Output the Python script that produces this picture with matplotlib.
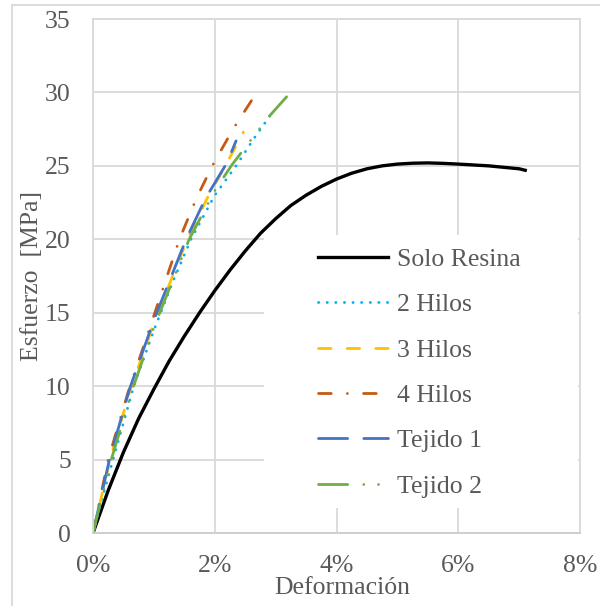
import matplotlib
matplotlib.use("Agg")
import matplotlib.pyplot as plt
from matplotlib.lines import Line2D
from matplotlib.patches import Rectangle

plt.rcParams['font.family'] = ['Liberation Serif', 'DejaVu Serif']

# strain (%) and stress (MPa)
resina_e = [0, 0.25, 0.5, 0.75, 1.0, 1.25, 1.5, 1.75, 2.0, 2.25, 2.5, 2.75, 3.0, 3.25, 3.5,
            3.75, 4.0, 4.25, 4.5, 4.75, 5.0, 5.25, 5.5, 5.75, 6.0, 6.5, 7.0, 7.1]
resina_s = [0, 2.9, 5.5, 7.8, 9.8, 11.7, 13.4, 15.0, 16.5, 17.9, 19.2, 20.4, 21.4, 22.3, 23.0,
            23.6, 24.1, 24.5, 24.8, 25.0, 25.12, 25.18, 25.2, 25.17, 25.12, 25.0, 24.8, 24.7]

hilos2_e = [0, 0.1, 0.33, 0.67, 1.0, 1.3, 1.61, 2.0, 2.35, 2.65, 2.94]
hilos2_s = [0, 1.6, 5.0, 10.0, 13.8, 17.0, 20.0, 23.0, 25.0, 26.9, 28.6]

hilos3_e = [0, 0.28, 0.6, 1.0, 1.55, 1.9, 2.2, 2.47]
hilos3_s = [0, 5.0, 9.6, 14.3, 20.0, 23.0, 25.2, 27.3]

hilos4_e = [0, 0.25, 0.57, 1.0, 1.42, 1.7, 1.96, 2.3, 2.66]
hilos4_s = [0, 5.0, 9.5, 14.8, 20.0, 22.8, 25.0, 27.5, 29.8]

tejido1_e = [0, 0.27, 0.6, 1.0, 1.53, 1.85, 2.2, 2.35]
tejido1_s = [0, 5.0, 9.8, 14.5, 20.0, 22.8, 25.2, 26.7]

tejido2_e = [0, 0.3, 0.65, 1.0, 1.58, 2.0, 2.27, 2.6, 2.9, 3.18]
tejido2_s = [0, 5.0, 9.8, 14.0, 20.0, 23.3, 25.0, 26.8, 28.4, 29.7]

labels = ["Solo Resina", "2 Hilos", "3 Hilos", "4 Hilos", "Tejido 1", "Tejido 2"]
xticks = [0, 2, 4, 6, 8]
xtick_labels = ["0%", "2%", "4%", "6%", "8%"]
yticks = [0, 5, 10, 15, 20, 25, 30, 35]

grey = "#595959"
grid = "#D9D9D9"

fig = plt.figure(figsize=(6.0, 6.06), dpi=100)
ax = fig.add_axes([93/600, 1-533/606, (580-93)/600, (533-19)/606])

lw = 2.0
ax.plot(resina_e, resina_s, color="black", lw=2.4, label=labels[0])
ax.plot(hilos2_e, hilos2_s, color="#00B0F0", lw=lw, dashes=(0.1, 3.0),
        dash_capstyle="round", label=labels[1])
ax.plot(hilos3_e, hilos3_s, color="#FFC000", lw=lw, dashes=(4.5, 5.8),
        dash_capstyle="round", label=labels[2])
ax.plot(hilos4_e, hilos4_s, color="#C55A11", lw=lw, dashes=(4.6, 5.8, 0.01, 5.8),
        dash_capstyle="round", label=labels[3])
ax.plot(tejido1_e, tejido1_s, color="#4472C4", lw=lw, dashes=(10.5, 5.8),
        dash_capstyle="round", label=labels[4])
ax.plot(tejido2_e, tejido2_s, color="#70AD47", lw=lw, dashes=(10.5, 5.8, 0.01, 5.3, 0.01, 5.8),
        dash_capstyle="round", label=labels[5])

ax.set_xlim(0, 8)
ax.set_ylim(0, 35)
ax.set_xticks(xticks)
ax.set_xticklabels(xtick_labels)
ax.set_yticks(yticks)
ax.tick_params(length=0, labelsize=18.5, colors=grey, pad=16)
ax.grid(True, color=grid, lw=1.3)
ax.set_axisbelow(True)
for name, sp in ax.spines.items():
    sp.set_color(grid)
    sp.set_linewidth(1.3)
ax.spines['bottom'].set_color("#CCCCCC")

# white box behind the legend hides the gridlines, as in the source chart
ax.add_patch(Rectangle((0.351, 0.0486), 0.645, 0.531, transform=ax.transAxes,
                       facecolor="white", edgecolor="none", zorder=3))

leg = fig.legend(loc="upper left", bbox_to_anchor=(318/600, 1-248/606),
                 bbox_transform=fig.transFigure, frameon=False, fontsize=18.5,
                 handlelength=2.72, handletextpad=0.35, labelspacing=0.87,
                 borderpad=0, borderaxespad=0)
for t in leg.get_texts():
    t.set_color(grey)
leg.set_zorder(6)

fig.text(342/600, 1-588/606, "Deformación", ha="center", va="center",
         fontsize=18.5, color=grey)
fig.text(32/600, 1-276/606, "Esfuerzo  [MPa]", ha="center", va="center",
         rotation=90, fontsize=18.5, color=grey)

# chart-area border (only left and top edges fall inside the picture)
fig.add_artist(Line2D([12/600, 12/600], [0, 1-5/606], transform=fig.transFigure,
                      color=grid, lw=1.3))
fig.add_artist(Line2D([12/600, 1], [1-5/606, 1-5/606], transform=fig.transFigure,
                      color=grid, lw=1.3))

fig.savefig("out.png", dpi=100)
